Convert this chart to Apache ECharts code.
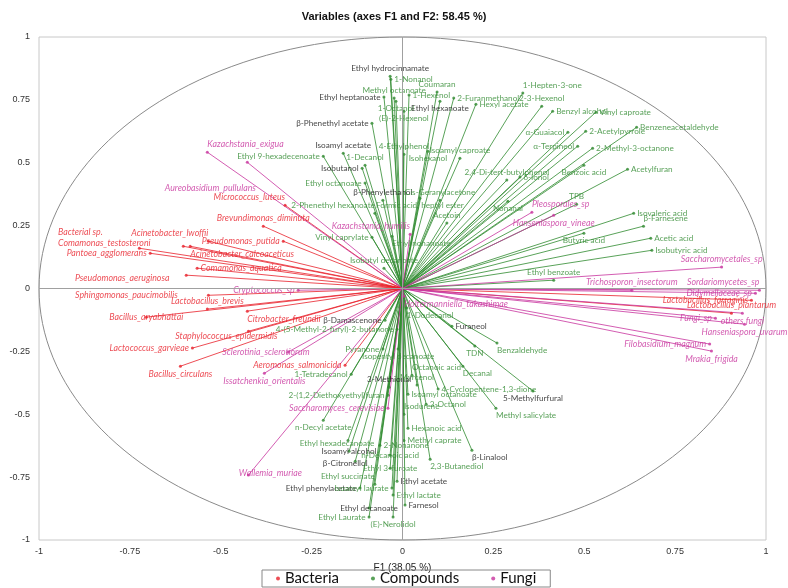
<!DOCTYPE html>
<html><head><meta charset="utf-8">
<script src="https://cdn.jsdelivr.net/npm/echarts@6/dist/echarts.min.js"></script>
<style>html,body{margin:0;padding:0;background:#fff}#c{width:788px;height:588px}</style>
</head><body><div id="c"></div>
<script>
// ---- DATA ----
const bacteriaNames = ["Micrococcus_luteus","Brevundimonas_diminuta","Pseudomonas_putida","Bacterial sp.","Acinetobacter_lwoffii","Comamonas_testosteroni","Acinetobacter_calcoaceticus","Pantoea_agglomerans","Comamonas_aquatica","Pseudomonas_aeruginosa","Sphingomonas_paucimobilis","Lactobacillus_brevis","Citrobacter_freundii","Bacillus_aryabhattai","Staphylococcus_epidermidis","Lactococcus_garvieae","Bacillus_circulans","Aeromonas_salmonicida","Lactobacillus_farraginis","Lactobacillus_plantarum"];
const bacteriaF1 = [-0.323,-0.383,-0.328,-0.603,-0.534,-0.724,-0.584,-0.694,-0.565,-0.595,-0.534,-0.537,-0.427,-0.705,-0.424,-0.578,-0.611,-0.158,0.960,0.905];
const bacteriaF2 = [0.331,0.248,0.188,0.168,0.188,0.160,0.168,0.140,0.081,0.053,-0.027,-0.082,-0.090,-0.114,-0.170,-0.237,-0.309,-0.305,-0.047,-0.098];

const compoundNames = ["Ethyl hydrocinnamate","1-Nonanol","Coumaran","Methyl octanoate","Ethyl heptanoate","1-Hexenol","1-Octanol","(E)-2-Hexenol","Ethyl hexanoate","2-Furanmethanol","Hexyl acetate","1-Hepten-3-one","2-3-Hexenol","Benzyl alcohol","Vinyl caproate","α-Guaiacol","2-Acetylpyrrole","Benzeneacetaldehyde","α-Terpineol","2-Methyl-3-octanone","Benzoic acid","Acetylfuran","β-Phenethyl acetate","Isoamyl acetate","4-Ethylphenol","Isoamyl caproate","Isohexanol","Ethyl 9-hexadecenoate","1-Decanol","Isobutanol","Ethyl octanoate","2,4-Di-tert-butylphenol","δ-Ionol","β-Phenylethanol","Cis-Geranylacetone","2-Phenethyl hexanoate","Formic acid, heptyl ester","Nonanal","TPB","Acetoin","Vinyl caprylate","Ethyl nonanoate","Isobutyl decanoate","Isovaleric acid","β-Farnesene","Acetic acid","Butyric acid","Isobutyric acid","Ethyl benzoate","1-Dodecanol","Furaneol","β-Damascenone","4-(5-Methyl-2-furyl)-2-butanone","TDN","Benzaldehyde","Pyranone","Isopentyl decanoate","1-Tetradecanol","3-Methional","Octanoic acid","Decanal","Myrcenol","4-Cyclopentene-1,3-dione","Isoamyl octanoate","5-Methylfurfural","3-Octanol","2-(1,2-Diethoxyethyl)furan","Isodurene","Methyl salicylate","n-Decyl acetate","Hexanoic acid","Methyl caprate","Ethyl hexadecanoate","2-Nonanone","Isoamyl alcohol","n-Decanoic acid","β-Linalool","β-Citronellol","2,3-Butanediol","Ethyl 3-furoate","Ethyl succinate","Ethyl acetate","Ethyl phenylacetate","Isoamyl laurate","Ethyl lactate","Ethyl decanoate","Farnesol","Ethyl Laurate","(E)-Nerolidol"];
const compoundF1 = [-0.034,-0.032,0.095,-0.023,-0.051,0.018,-0.018,0.004,0.103,0.141,0.202,0.331,0.383,0.413,0.532,0.455,0.504,0.644,0.482,0.523,0.499,0.619,-0.084,-0.163,0.004,0.158,0.070,-0.218,-0.103,-0.111,-0.103,0.287,0.323,-0.054,0.103,-0.076,0.048,0.290,0.479,0.122,-0.084,-0.029,-0.051,0.636,0.663,0.683,0.499,0.686,0.416,0.012,0.136,-0.048,-0.015,0.199,0.260,-0.054,-0.012,-0.141,-0.037,0.026,0.166,0.040,0.098,0.015,0.359,0.065,-0.040,0.004,0.257,-0.218,0.015,0.004,-0.150,-0.062,-0.147,-0.034,0.191,-0.130,0.076,-0.034,-0.076,-0.015,-0.117,-0.029,-0.026,-0.092,0.007,-0.092,-0.026];
const compoundF2 = [0.844,0.832,0.781,0.757,0.761,0.769,0.745,0.705,0.745,0.757,0.733,0.777,0.725,0.705,0.701,0.621,0.625,0.641,0.566,0.558,0.490,0.474,0.657,0.538,0.534,0.518,0.546,0.526,0.490,0.478,0.419,0.431,0.443,0.351,0.351,0.299,0.359,0.347,0.335,0.260,0.204,0.208,0.081,0.299,0.248,0.200,0.220,0.152,0.033,-0.078,-0.150,-0.126,-0.162,-0.229,-0.217,-0.241,-0.241,-0.341,-0.393,-0.345,-0.309,-0.384,-0.400,-0.420,-0.408,-0.460,-0.424,-0.500,-0.476,-0.524,-0.556,-0.604,-0.604,-0.623,-0.647,-0.663,-0.643,-0.687,-0.679,-0.715,-0.778,-0.766,-0.793,-0.793,-0.821,-0.873,-0.861,-0.909,-0.909];

const fungiNames = ["Kazachstania_exigua","Aureobasidium_pullulans","Kazachstania_humilis","Cryptococcus_sp","Pleosporales_sp","Hanseniaspora_vineae","Saccharomycetales_sp","Sordariomycetes_sp","Didymellaceae_sp","Trichosporon_insectorum","Holtermanniella_takashimae","Fungi_sp","others fungi","Hanseniaspora_uvarum","Filobasidium_magnum","Mrakia_frigida","Sclerotinia_sclerotiorum","Issatchenkia_orientalis","Saccharomyces_cerevisiae","Wallemia_muriae"];
const fungiF1 = [-0.537,-0.427,0.021,-0.287,0.356,0.416,0.878,0.982,0.971,0.631,0.004,0.861,0.935,0.941,0.845,0.850,-0.315,-0.380,-0.040,-0.424];
const fungiF2 = [0.542,0.502,0.216,-0.007,0.303,0.291,0.085,-0.007,-0.019,-0.007,-0.031,-0.118,-0.098,-0.142,-0.221,-0.249,-0.253,-0.337,-0.476,-0.742];

const xTicks = [-1,-0.75,-0.5,-0.25,0,0.25,0.5,0.75,1];

// compounds whose label is printed in black
const blackLabels = ["Ethyl hydrocinnamate","Ethyl heptanoate","Ethyl hexanoate","β-Phenethyl acetate","Isoamyl acetate","Isobutanol","β-Phenylethanol","β-Damascenone","Furaneol","3-Methional","5-Methylfurfural","β-Linalool","Isoamyl alcohol","β-Citronellol","Ethyl phenylacetate","Ethyl acetate","Ethyl decanoate","Farnesol"];

// label placement around each point (style only)
const place = {
 "Ethyl hydrocinnamate":"t","1-Nonanol":"r","Coumaran":"t","Methyl octanoate":"t","Ethyl heptanoate":"l","1-Hexenol":"r","1-Octanol":"b","(E)-2-Hexenol":"b","Ethyl hexanoate":"b","2-Furanmethanol":"r","Hexyl acetate":"r","1-Hepten-3-one":"tr","2-3-Hexenol":"t","Benzyl alcohol":"r","Vinyl caproate":"r","α-Guaiacol":"l","2-Acetylpyrrole":"r","Benzeneacetaldehyde":"r","α-Terpineol":"l","2-Methyl-3-octanone":"r","Benzoic acid":"b","Acetylfuran":"r","β-Phenethyl acetate":"l","Isoamyl acetate":"t","4-Ethylphenol":"t","Isoamyl caproate":"t","Isohexanol":"b","Ethyl 9-hexadecenoate":"l","1-Decanol":"t","Isobutanol":"l","Ethyl octanoate":"l","2,4-Di-tert-butylphenol":"t","δ-Ionol":"r","β-Phenylethanol":"t","Cis-Geranylacetone":"t","2-Phenethyl hexanoate":"tl","Formic acid, heptyl ester":"b","Nonanal":"b","TPB":"t","Acetoin":"t","Vinyl caprylate":"l","Ethyl nonanoate":"br","Isobutyl decanoate":"t","Isovaleric acid":"r","β-Farnesene":"tr","Acetic acid":"r","Butyric acid":"b","Isobutyric acid":"r","Ethyl benzoate":"t","1-Dodecanol":"br","Furaneol":"r","β-Damascenone":"l","4-(5-Methyl-2-furyl)-2-butanone":"l","TDN":"b","Benzaldehyde":"br","Pyranone":"l","Isopentyl decanoate":"b","1-Tetradecanol":"l","3-Methional":"t","Octanoic acid":"tr","Decanal":"br","Myrcenol":"t","4-Cyclopentene-1,3-dione":"r","Isoamyl octanoate":"r","5-Methylfurfural":"b","3-Octanol":"r","2-(1,2-Diethoxyethyl)furan":"l","Isodurene":"tr","Methyl salicylate":"br","n-Decyl acetate":"b","Hexanoic acid":"r","Methyl caprate":"r","Ethyl hexadecanoate":[-11,3],"2-Nonanone":"r","Isoamyl alcohol":"c","n-Decanoic acid":"c","β-Linalool":"br","β-Citronellol":[-10,2],"2,3-Butanediol":"br","Ethyl 3-furoate":"c","Ethyl succinate":"tl","Ethyl acetate":"r","Ethyl phenylacetate":"l","Isoamyl laurate":"l","Ethyl lactate":"r","Ethyl decanoate":"c","Farnesol":"r","Ethyl Laurate":"l","(E)-Nerolidol":"b",
 "Micrococcus_luteus":"tl","Brevundimonas_diminuta":"t","Pseudomonas_putida":"l","Bacterial sp.":[-103,-14],"Acinetobacter_lwoffii":"tl","Comamonas_testosteroni":[-35,-5],"Acinetobacter_calcoaceticus":"br","Pantoea_agglomerans":"l","Comamonas_aquatica":"r","Pseudomonas_aeruginosa":[-64,3],"Sphingomonas_paucimobilis":[-82,0],"Lactobacillus_brevis":"t","Citrobacter_freundii":"br","Bacillus_aryabhattai":"c","Staphylococcus_epidermidis":[-22,5],"Lactococcus_garvieae":"l","Bacillus_circulans":"b","Aeromonas_salmonicida":"l","Lactobacillus_farraginis":"l","Lactobacillus_plantarum":"t",
 "Kazachstania_exigua":"tr","Aureobasidium_pullulans":[-37,26],"Kazachstania_humilis":"tl","Cryptococcus_sp":"l","Pleosporales_sp":"tr","Hanseniaspora_vineae":"b","Saccharomycetales_sp":"t","Sordariomycetes_sp":"tl","Didymellaceae_sp":"l","Trichosporon_insectorum":"t","Holtermanniella_takashimae":"br","Fungi_sp":"l","others fungi":"b","Hanseniaspora_uvarum":"b","Filobasidium_magnum":"l","Mrakia_frigida":"b","Sclerotinia_sclerotiorum":[-22,0],"Issatchenkia_orientalis":"b","Saccharomyces_cerevisiae":"l","Wallemia_muriae":[22,-2]
};

// ---- STYLE ----
const RED = '#e8202a', GREEN = '#2f8a2f', MAG = '#c8339e';
const LABEL_FONT = 'Lato, "Open Sans", sans-serif';

function labelFor(name, color, italic){
  const p = place[name] || 'r';
  const base = {show:true, color, fontSize: italic ? 8.8 : 8.2, fontFamily:LABEL_FONT, fontStyle: italic ? 'italic' : 'normal', distance:2, formatter:'{b}'};
  if (Array.isArray(p)) return Object.assign(base, {position:'inside', offset:p});
  const m = {t:{position:'top'}, b:{position:'bottom'}, l:{position:'left'}, r:{position:'right'}, c:{position:'inside'},
    tr:{position:'top', align:'left'}, tl:{position:'top', align:'right'}, br:{position:'bottom', align:'left'}, bl:{position:'bottom', align:'right'}};
  return Object.assign(base, m[p]);
}

function buildPoints(names, f1, f2, color, italic){
  return names.map((n,i)=>{
    const lc = (!italic && blackLabels.includes(n)) ? '#111' : color;
    return {name:n, value:[f1[i], f2[i]], label:labelFor(n, lc, italic)};
  });
}
function buildRays(f1, f2){ return f1.map((v,i)=>[v, f2[i]]); }

function raySeries(f1, f2, color){
  return {type:'custom', silent:true, z:1, data:buildRays(f1,f2),
    renderItem(params, api){
      const p0 = api.coord([0,0]);
      const p1 = api.coord([api.value(0), api.value(1)]);
      return {type:'line', shape:{x1:p0[0],y1:p0[1],x2:p1[0],y2:p1[1]}, style:{stroke:color, lineWidth:0.8}};
    }};
}

const chart = echarts.init(document.getElementById('c'), null, {renderer:'canvas'});
const axisFont = '"Liberation Sans Narrow", "Liberation Sans", Arial, sans-serif';
chart.setOption({
  animation:false,
  title:{text:'Variables (axes F1 and F2: 58.45 %)', left:'center', top:6,
    textStyle:{fontSize:11, fontWeight:'bold', color:'#111', fontFamily:axisFont}},
  grid:{left:39, right:22, top:37, bottom:48, show:true, borderColor:'#c8c8c8', borderWidth:1,
    containLabel:false, outerBoundsMode:'none'},
  xAxis:{type:'value', min:-1, max:1, interval:0.25, name:'F1 (38.05 %)', nameLocation:'middle', nameGap:23,
    nameTextStyle:{fontSize:10, color:'#222', fontFamily:axisFont},
    axisLine:{show:false, onZero:false}, axisTick:{show:false}, splitLine:{show:false},
    axisLabel:{fontSize:9, color:'#333', margin:7, fontFamily:axisFont}},
  yAxis:{type:'value', min:-1, max:1, interval:0.25, name:'F2 (20.40 %)', nameLocation:'middle', nameGap:26,
    nameTextStyle:{fontSize:10, color:'#222', fontFamily:axisFont},
    axisLine:{show:false, onZero:false}, axisTick:{show:false}, splitLine:{show:false},
    axisLabel:{fontSize:9, color:'#333', margin:9, fontFamily:axisFont}},
  legend:{bottom:1, left:262, data:['Bacteria','Compounds','Fungi'], icon:'circle', itemWidth:4, itemHeight:4,
    itemGap:32, borderColor:'#888', borderWidth:1, padding:[1,14,1,14],
    textStyle:{fontSize:15, color:'#111', fontFamily:LABEL_FONT}},
  series:[
    {type:'custom', silent:true, z:0, data:[[0,0]],
      renderItem(params, api){
        const pts = [];
        for (let a=0; a<=360; a+=2){ const r=a*Math.PI/180; pts.push(api.coord([Math.cos(r), Math.sin(r)])); }
        return {type:'polyline', shape:{points:pts}, style:{stroke:'#8a8a8a', lineWidth:1, fill:null}};
      },
      markLine:{silent:true, symbol:['none','none'], label:{show:false},
        lineStyle:{color:'#a0a0a0', width:1, type:'solid'}, data:[{xAxis:0},{yAxis:0}]}},
    raySeries(bacteriaF1, bacteriaF2, RED),
    raySeries(compoundF1, compoundF2, GREEN),
    raySeries(fungiF1, fungiF2, MAG),
    {name:'Bacteria', type:'scatter', symbolSize:3, z:3, itemStyle:{color:RED}, data:buildPoints(bacteriaNames,bacteriaF1,bacteriaF2,RED,true)},
    {name:'Compounds', type:'scatter', symbolSize:3, z:3, itemStyle:{color:GREEN}, data:buildPoints(compoundNames,compoundF1,compoundF2,GREEN,false)},
    {name:'Fungi', type:'scatter', symbolSize:3, z:3, itemStyle:{color:MAG}, data:buildPoints(fungiNames,fungiF1,fungiF2,MAG,true)}
  ]
});
</script></body></html>
